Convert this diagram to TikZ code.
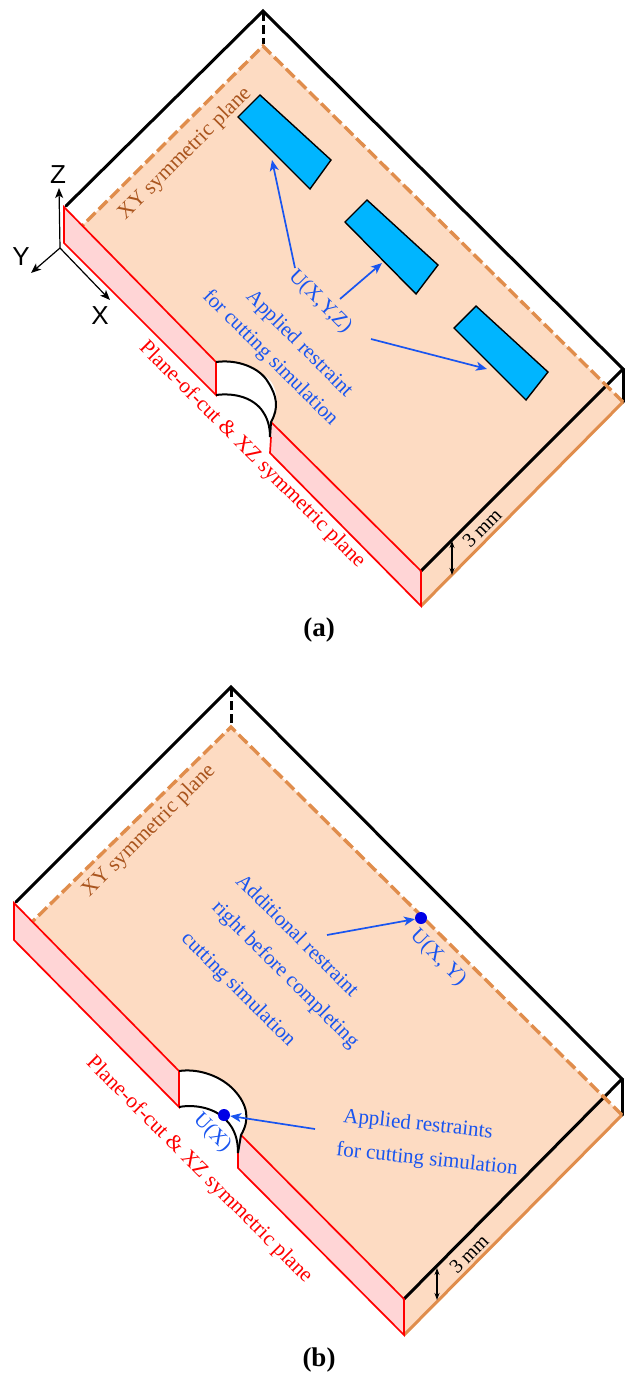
\documentclass[tikz,border=0pt]{standalone}
\usepackage{fontspec}
\setmainfont{Liberation Serif}
\newfontfamily\axisfont{Liberation Sans}
\usetikzlibrary{arrows.meta}
\definecolor{plate}{RGB}{253,219,194}
\definecolor{pinkface}{RGB}{255,213,214}
\definecolor{sensor}{RGB}{0,181,255}
\definecolor{dashor}{RGB}{224,141,76}
\definecolor{browntxt}{RGB}{170,85,30}
\definecolor{bluetxt}{RGB}{25,85,240}
\definecolor{redline}{RGB}{255,0,0}
\definecolor{dotblue}{RGB}{0,0,230}
\newcommand{\fs}[1]{\fontsize{#1}{#1}\selectfont}
\tikzset{
  edgeblack/.style={draw=black,line width=3pt,line cap=round},
  edgedash/.style={draw=black,line width=3pt,dash pattern=on 9pt off 4pt},
  cutred/.style={draw=redline,line width=1.7pt,line join=miter},
  plateor/.style={draw=dashor,line width=3pt},
  platedash/.style={draw=dashor,line width=3.4pt,dash pattern=on 12pt off 4.5pt},
  archk/.style={draw=black,line width=2pt},
  sensorbox/.style={draw=black,line width=1.4pt,fill=sensor,line join=miter},
  bluearrow/.style={draw=bluetxt,line width=1.7pt,-{Stealth[length=11pt,width=9pt,inset=3pt]}},
  dimarrow/.style={draw=black,line width=1.1pt,{Stealth[length=7pt,width=5pt]}-{Stealth[length=7pt,width=5pt]}},
  axisarrow/.style={draw=black,line width=1.2pt,-{Stealth[length=10pt,width=8pt,inset=2.5pt]}},
  bluelabel/.style={text=bluetxt,font=\fs{21}},
  brownlabel/.style={text=browntxt,font=\fs{21.5}},
  redlabel/.style={text=redline,font=\fs{21.5}},
  blacklabel/.style={text=black,font=\fs{20}},
  axislabel/.style={text=black,font=\axisfont\fs{26}},
  panellabel/.style={text=black,font=\bfseries\fs{27}},
  restraintdot/.style={circle,fill=dotblue,inner sep=0pt,minimum size=12pt},
}
\begin{document}
\begin{tikzpicture}[x=1pt,y=-1pt]
\useasboundingbox (0,0) rectangle (630,1376);
% ---------- panel (a)
\fill[plate] (82,226) -- (263,46) -- (623,402) -- (421,606) -- (421,571) -- (271,422) .. controls (279,405) and (279,385) .. (265,376) .. controls (250,364) and (232,360) .. (216,362) -- cycle;
\fill[pinkface] (64,207) -- (64,243) -- (216,395) -- (216,362) -- cycle;
\fill[pinkface] (271,422) -- (270,453) -- (421,606) -- (421,571) -- cycle;
\draw[edgeblack] (66,206) -- (263,11) -- (623,369) -- (421,571);
\draw[edgedash] (263,12) -- (263,44);
\draw[edgeblack] (623,369) -- (623,402);
\draw[plateor] (421,606) -- (623,402);
\draw[platedash] (623,402) -- (263,46) -- (82,226);
\draw[cutred] (64,207) -- (216,362) -- (216,395) -- (64,243) -- cycle;
\draw[cutred] (271,422) -- (421,571) -- (421,606) -- (270,453) -- (271,437);
\draw[archk] (216,362) .. controls (238,359) and (260,368) .. (268,382) .. controls (277,396) and (279,408) .. (271,422) -- (270,437);
\draw[archk] (216,395) .. controls (232,393) and (250,396) .. (261,409) .. controls (267,417) and (270,425) .. (270,437);
\draw[sensorbox] (260,95) -- (238,117) -- (310,189) -- (331,160) -- cycle;
\draw[sensorbox] (367,200) -- (345,222) -- (416,294) -- (438,265) -- cycle;
\draw[sensorbox] (476,306) -- (454,328) -- (526,400) -- (548,372) -- cycle;
\node[brownlabel,rotate=45] (xya) at (185,154) {XY symmetric plane};
\node[redlabel,rotate=-45] (cuta) at (252,455) {Plane-of-cut \& XZ symmetric plane};
\node[bluelabel,rotate=-45] (ua) at (320,302) {U(X,Y,Z)};
\node[bluelabel,rotate=-45] (appa) at (299,344) {Applied restraint};
\node[bluelabel,rotate=-45] (cutsima) at (270,358) {for cutting simulation};
\coordinate (aa1) at (295,268); \coordinate (at1) at (272,160);
\coordinate (aa2) at (340,299); \coordinate (at2) at (382,263);
\coordinate (aa3) at (371,339); \coordinate (at3) at (487,369);
\draw[bluearrow] (aa1) -- (at1);
\draw[bluearrow] (aa2) -- (at2);
\draw[bluearrow] (aa3) -- (at3);
\coordinate (da1) at (452,541); \coordinate (da2) at (452,575);
\draw[dimarrow] (da1) -- (da2);
\node[blacklabel,rotate=45] (mma) at (482,528) {3 mm};
\coordinate (orig) at (60,248); \coordinate (zt) at (59,188); \coordinate (yt) at (31,273); \coordinate (xt) at (110,300);
\draw[axisarrow] (orig) -- (zt);
\draw[axisarrow] (orig) -- (yt);
\draw[axisarrow] (orig) -- (xt);
\node[axislabel] (zl) at (58,175) {Z};
\node[axislabel] (yl) at (21,257) {Y};
\node[axislabel] (xl) at (100,316) {X};
\node[panellabel] (pa) at (319,630) {(a)};
% ---------- panel (b)
\fill[plate] (33,921) -- (231,727) -- (622,1115) -- (404,1335) -- (404,1299) -- (241,1135) .. controls (249,1118) and (247,1100) .. (232,1087) .. controls (218,1075) and (198,1070) .. (179,1071) -- cycle;
\fill[pinkface] (14,903) -- (14,940) -- (179,1107) -- (179,1071) -- cycle;
\fill[pinkface] (241,1135) -- (238,1168) -- (404,1335) -- (404,1299) -- cycle;
\draw[edgeblack] (16,902) -- (231,687) -- (622,1079) -- (404,1299);
\draw[edgedash] (231,688) -- (231,725);
\draw[edgeblack] (622,1079) -- (622,1115);
\draw[plateor] (404,1335) -- (622,1115);
\draw[platedash] (622,1115) -- (231,727) -- (33,921);
\draw[cutred] (14,903) -- (179,1071) -- (179,1107) -- (14,940) -- cycle;
\draw[cutred] (241,1135) -- (404,1299) -- (404,1335) -- (238,1168) -- (238,1153);
\draw[archk] (179,1071) .. controls (200,1068) and (222,1077) .. (234,1090) .. controls (248,1105) and (250,1120) .. (241,1135) -- (238,1153);
\draw[archk] (179,1107) .. controls (195,1104) and (215,1108) .. (226,1120) .. controls (235,1129) and (238,1140) .. (238,1153);
\node[restraintdot] (d1) at (224,1115) {};
\node[restraintdot] (d2) at (421,918) {};
\node[brownlabel,rotate=45] (xyb) at (149,831) {XY symmetric plane};
\node[redlabel,rotate=-45] (cutb) at (199,1170) {Plane-of-cut \& XZ symmetric plane};
\node[bluelabel,rotate=-45] (addb) at (298,935) {Additional restraint};
\node[bluelabel,rotate=-45] (rightb) at (285,975) {right before completing};
\node[bluelabel,rotate=-45] (cuttb) at (238,990) {cutting simulation};
\node[bluelabel,rotate=-45] (uxy) at (438,958) {U(X, Y)};
\node[bluelabel,rotate=-45] (ux) at (212,1133) {U(X)};
\node[bluelabel,rotate=-6] (appb) at (418,1125) {Applied restraints};
\node[bluelabel,rotate=-6] (forb) at (427,1160) {for cutting simulation};
\coordinate (ab1) at (327,935);
\coordinate (ab2) at (315,1129);
\draw[bluearrow] (ab1) -- (d2);
\draw[bluearrow] (ab2) -- (d1);
\coordinate (db1) at (437,1268); \coordinate (db2) at (437,1300);
\draw[dimarrow] (db1) -- (db2);
\node[blacklabel,rotate=45] (mmb) at (469,1254) {3 mm};
\node[panellabel] (pb) at (319,1360) {(b)};
\end{tikzpicture}
\end{document}
